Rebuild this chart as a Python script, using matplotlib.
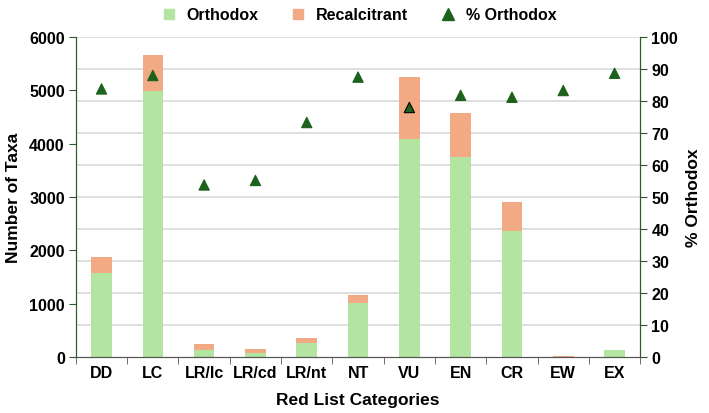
import numpy as np
import matplotlib
matplotlib.use('Agg')
import matplotlib.pyplot as plt
from matplotlib.lines import Line2D
from matplotlib.ticker import FixedLocator, MultipleLocator

plt.rcParams['font.family'] = ['Liberation Sans', 'DejaVu Sans']
plt.rcParams['font.weight'] = 'bold'

categories   = ['DD', 'LC', 'LR/lc', 'LR/cd', 'LR/nt', 'NT', 'VU', 'EN', 'CR', 'EW', 'EX']
orthodox     = [1570, 4985, 137, 81, 268, 1022, 4093, 3751, 2368, 10, 125]
recalcitrant = [300, 680, 113, 62, 87, 143, 1153, 828, 548, 3, 5]
pct_orthodox = [83.8, 88.0, 53.8, 55.2, 73.3, 87.5, 78.0, 81.8, 81.2, 83.3, 88.7]

GREEN = '#b3e4a1'; ORANGE = '#f2aa84'; TRI = '#1c621c'; SPINE = '#2e5b2e'
FS = 11.5

fig = plt.figure(figsize=(7.09, 4.14), dpi=100)
ax = fig.add_axes([0.107, 0.135, 0.796, 0.773])
ax2 = ax.twinx()
x = np.arange(len(categories))

# gridlines follow the right (% orthodox) axis, every 10 %
for v in np.arange(10, 101, 10):
    ax.axhline(v * 60, color='#d9d9d9', lw=1.2, zorder=0)
ax.bar(x, orthodox, 0.4, color=GREEN, zorder=2)
ax.bar(x, recalcitrant, 0.4, bottom=orthodox, color=ORANGE, zorder=2)
ax.set_xlim(-0.5, len(categories) - 0.5)
ax.set_ylim(0, 6000)
ax.yaxis.set_major_locator(MultipleLocator(1000))

ax2.set_ylim(0, 100)
ax2.yaxis.set_major_locator(MultipleLocator(10))
ax.set_zorder(ax2.get_zorder() - 1)
ax.patch.set_visible(False)
ax2.patch.set_visible(False)

ec = ['black' if c == 'VU' else TRI for c in categories]
ax2.scatter(x, pct_orthodox, marker='^', s=55, color=TRI, edgecolors=ec, linewidths=0.8, zorder=4)

ax.set_xticks(x)
ax.set_xticklabels(categories, fontsize=FS, fontweight='bold')
ax.tick_params(axis='x', which='major', length=0, pad=6)
ax.xaxis.set_minor_locator(FixedLocator(np.arange(-0.5, len(categories), 1.0)))
ax.tick_params(axis='x', which='minor', length=5, direction='out', color='#555555')
ax.tick_params(axis='y', labelsize=FS, length=5, direction='out', color=SPINE, pad=3)
ax2.tick_params(axis='y', labelsize=FS, length=5, direction='out', color=SPINE, pad=3)
for lbl in ax.get_yticklabels() + ax2.get_yticklabels():
    lbl.set_fontweight('bold')

for a in (ax, ax2):
    a.spines['top'].set_visible(False)
    a.spines['left'].set_color(SPINE)
    a.spines['right'].set_color(SPINE)
    a.spines['bottom'].set_color('#555555')

ax.set_xlabel('Red List Categories', fontsize=12.5, fontweight='bold', labelpad=8)
ax.set_ylabel('Number of Taxa', fontsize=12.5, fontweight='bold', labelpad=6)
ax2.set_ylabel('% Orthodox', fontsize=12.5, fontweight='bold', labelpad=6)

handles = [Line2D([], [], marker='s', ls='', color=GREEN, markersize=7),
           Line2D([], [], marker='s', ls='', color=ORANGE, markersize=7),
           Line2D([], [], marker='^', ls='', color=TRI, markersize=8)]
fig.legend(handles, ['Orthodox', 'Recalcitrant', '% Orthodox'], loc='upper center',
           bbox_to_anchor=(0.5, 1.015), ncol=3, frameon=False,
           handletextpad=0.1, columnspacing=1.5, prop={'weight': 'bold', 'size': FS})

fig.savefig('out.png', dpi=100)
